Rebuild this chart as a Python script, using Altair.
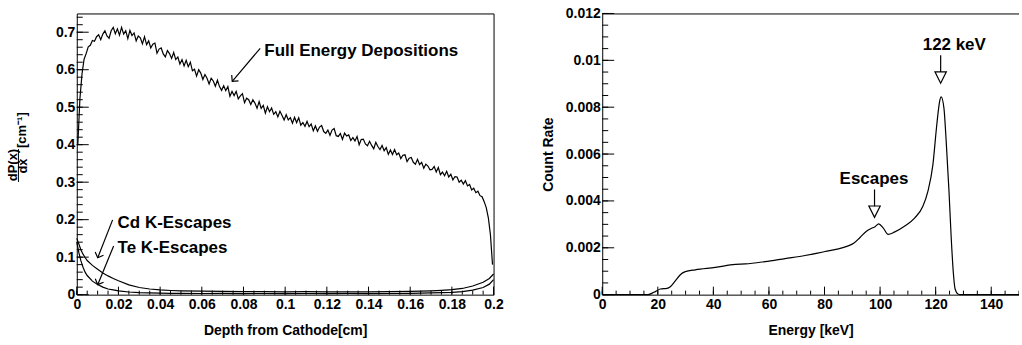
import altair as alt
import pandas as pd

# ---------------- data ----------------
# Left panel: full-energy deposition histogram (bin width 0.001 cm, first centre 0.0005 cm)
FULL_BIN_START = 0.0005
FULL_BIN_WIDTH = 0.001
full_values = [
    0.400, 0.522, 0.588, 0.628, 0.643, 0.661, 0.665, 0.678, 0.676, 0.688,
    0.693, 0.680, 0.695, 0.704, 0.690, 0.684, 0.704, 0.713, 0.696, 0.709,
    0.692, 0.713, 0.695, 0.704, 0.683, 0.705, 0.691, 0.698, 0.677, 0.690,
    0.685, 0.669, 0.688, 0.667, 0.677, 0.658, 0.668, 0.671, 0.644, 0.655,
    0.658, 0.642, 0.634, 0.651, 0.643, 0.630, 0.646, 0.627, 0.634, 0.615,
    0.627, 0.610, 0.625, 0.608, 0.620, 0.597, 0.601, 0.583, 0.600, 0.591,
    0.574, 0.587, 0.577, 0.562, 0.577, 0.570, 0.556, 0.572, 0.555, 0.545,
    0.557, 0.544, 0.555, 0.529, 0.542, 0.531, 0.542, 0.522, 0.530, 0.536,
    0.512, 0.524, 0.520, 0.507, 0.520, 0.511, 0.497, 0.515, 0.497, 0.505,
    0.484, 0.501, 0.488, 0.498, 0.481, 0.488, 0.474, 0.489, 0.478, 0.466,
    0.480, 0.466, 0.472, 0.457, 0.473, 0.459, 0.472, 0.452, 0.459, 0.449,
    0.462, 0.448, 0.455, 0.437, 0.450, 0.436, 0.447, 0.451, 0.435, 0.430,
    0.439, 0.425, 0.439, 0.443, 0.424, 0.422, 0.430, 0.414, 0.431, 0.423,
    0.426, 0.411, 0.419, 0.410, 0.422, 0.400, 0.414, 0.415, 0.402, 0.397,
    0.409, 0.398, 0.389, 0.406, 0.395, 0.387, 0.398, 0.384, 0.392, 0.374,
    0.386, 0.374, 0.387, 0.373, 0.378, 0.363, 0.372, 0.373, 0.355, 0.364,
    0.366, 0.353, 0.348, 0.361, 0.347, 0.353, 0.337, 0.348, 0.343, 0.333,
    0.334, 0.342, 0.327, 0.339, 0.320, 0.327, 0.317, 0.329, 0.314, 0.321,
    0.306, 0.315, 0.314, 0.300, 0.305, 0.295, 0.304, 0.290, 0.294, 0.279,
    0.284, 0.272, 0.276, 0.264, 0.261, 0.248, 0.232, 0.205, 0.160, 0.080,
]
full_depth = [round(FULL_BIN_START + FULL_BIN_WIDTH * i, 4) for i in range(len(full_values))]

esc_depth = [0.0, 0.001, 0.002, 0.003, 0.004, 0.005,
             0.0075, 0.01, 0.0125, 0.015, 0.0175, 0.02,
             0.025, 0.03, 0.035, 0.04, 0.045, 0.05,
             0.06, 0.07, 0.08, 0.09, 0.1,
             0.11, 0.12, 0.13, 0.14, 0.15, 0.16,
             0.165, 0.17, 0.175, 0.18, 0.185, 0.19, 0.195, 0.198, 0.2]
cd_values = [0.150, 0.135, 0.119, 0.108, 0.099, 0.091,
             0.078, 0.068, 0.058, 0.050, 0.043, 0.037,
             0.026, 0.019, 0.015, 0.0125, 0.011, 0.010,
             0.0092, 0.0085, 0.0078, 0.0082, 0.0074,
             0.0078, 0.0072, 0.0076, 0.0074, 0.0078, 0.0085,
             0.0092, 0.0102, 0.0115, 0.0132, 0.0165, 0.023, 0.033, 0.043, 0.055]
te_values = [0.140, 0.112, 0.090, 0.073, 0.060, 0.051,
             0.036, 0.027, 0.020, 0.015, 0.0125, 0.010,
             0.007, 0.0052, 0.0045, 0.004, 0.0036, 0.0034,
             0.0031, 0.0033, 0.0029, 0.0031, 0.0028,
             0.003, 0.0028, 0.003, 0.0029, 0.003, 0.0034,
             0.0038, 0.0045, 0.0052, 0.006, 0.008, 0.012, 0.019, 0.028, 0.040]

# Right panel: energy spectrum
energy = [0, 16.5, 18.6, 20.9, 23.3, 24.5, 26.3, 28.1, 29.9, 33.5,
          40.7, 47.9, 51.5, 58.6, 65.8, 73.0, 80.2, 85.0, 88.3, 90.5,
          92.7, 95.1, 96.9, 98.2, 99.5, 101.1, 102.9, 105.3, 108.9, 112.5,
          115.4, 117.2, 119.0, 120.4, 121.4, 122.0, 123.0, 123.8, 124.8, 125.6,
          126.4, 127.0, 128.0, 129.0, 150]
count_rate = [0, 0, 0.00010, 0.00024, 0.00027, 0.00034, 0.00059, 0.00085, 0.00098, 0.00106,
              0.00116, 0.00129, 0.00131, 0.00141, 0.00154, 0.00167, 0.00184, 0.00195, 0.00207, 0.00219,
              0.00243, 0.00271, 0.00283, 0.00290, 0.00302, 0.00285, 0.00257, 0.00268, 0.00293, 0.00328,
              0.00377, 0.00441, 0.00554, 0.00724, 0.00823, 0.00844, 0.00794, 0.00653, 0.00441, 0.00243,
              0.00088, 0.00024, 0.00003, 0, 0]

# axis ticks
left_x_major = [0, 0.02, 0.04, 0.06, 0.08, 0.1, 0.12, 0.14, 0.16, 0.18, 0.2]
left_x_minor = [round(0.005 * i, 3) for i in range(41)]
left_y_major = [0, 0.1, 0.2, 0.3, 0.4, 0.5, 0.6, 0.7]
left_y_minor = [round(0.02 * i, 2) for i in range(38)]
right_x_major = [0, 20, 40, 60, 80, 100, 120, 140]
right_x_minor = [5 * i for i in range(31)]
right_y_major = [0, 0.002, 0.004, 0.006, 0.008, 0.01, 0.012]
right_y_minor = [round(0.0005 * i, 4) for i in range(25)]

# annotations
left_labels = ["Full Energy Depositions", "Cd K-Escapes", "Te K-Escapes"]
left_label_x = [0.0900, 0.0196, 0.0196]
left_label_y = [0.649, 0.1915, 0.125]
left_arrow_x = [0.0880, 0.0172, 0.0177]
left_arrow_y = [0.657, 0.1995, 0.130]
left_arrow_x2 = [0.0746, 0.01005, 0.01005]
left_arrow_y2 = [0.569, 0.0984, 0.0266]
left_arrow_angle = [40.3, 21.5, 22.3]

right_labels = ["122 keV", "Escapes"]
right_label_x = [126.7, 97.8]
right_label_y = [0.01064, 0.00492]
right_arrow_x = [121.8, 98.0]
right_arrow_y = [0.01022, 0.00449]
right_arrow_y2 = [0.00950, 0.00377]
right_head_y = [0.009265, 0.00354]

# ---------------- layout ----------------
W, H = 418, 282
FONT = "Liberation Sans"
MAJ_X, MIN_X, MAJ_Y, MIN_Y = 8, 4, 12, 6
V_PATH = "M -1 -1 L 0 0 L 1 -1"
TRI_PATH = "M -1 -1 L 1 -1 L 0 1 Z"

one = pd.DataFrame({"a": [0]})


def tick_layers(xmaj, xmin, ymaj, ymin, xs, ys, xa, ya):
    out = []
    for vals, ln in ((xmin, MIN_X), (xmaj, MAJ_X)):
        out.append(alt.Chart(pd.DataFrame({"t": vals})).mark_rule(color="black", strokeWidth=1).encode(
            x=alt.X("t:Q", scale=xs, axis=xa), y=alt.value(H), y2=alt.value(H - ln)))
    for vals, ln in ((ymin, MIN_Y), (ymaj, MAJ_Y)):
        out.append(alt.Chart(pd.DataFrame({"t": vals})).mark_rule(color="black", strokeWidth=1).encode(
            y=alt.Y("t:Q", scale=ys, axis=ya), x=alt.value(0), x2=alt.value(ln)))
    return out


# ----- left panel -----
lx = alt.Scale(domain=[0, 0.2], nice=False, zero=False)
ly = alt.Scale(domain=[0, 0.75], nice=False)
lxa = alt.Axis(values=left_x_major, format="~r", title="Depth from Cathode[cm]", labelPadding=3, titlePadding=12)
lya = alt.Axis(values=left_y_major, format="~r", title=None, labelPadding=2)

full_df = pd.DataFrame({"x": full_depth, "y": full_values})
cd_df = pd.DataFrame({"x": esc_depth, "y": cd_values})
te_df = pd.DataFrame({"x": esc_depth, "y": te_values})

full_line = alt.Chart(full_df).mark_line(color="black", strokeWidth=1.2).encode(
    x=alt.X("x:Q", scale=lx, axis=lxa), y=alt.Y("y:Q", scale=ly, axis=lya))
cd_line = alt.Chart(cd_df).mark_line(color="black", strokeWidth=1.2).encode(
    x=alt.X("x:Q", scale=lx, axis=lxa), y=alt.Y("y:Q", scale=ly, axis=lya))
te_line = alt.Chart(te_df).mark_line(color="black", strokeWidth=1.2).encode(
    x=alt.X("x:Q", scale=lx, axis=lxa), y=alt.Y("y:Q", scale=ly, axis=lya))

lab_df = pd.DataFrame({"t": left_labels, "x": left_label_x, "y": left_label_y})
left_text = alt.Chart(lab_df).mark_text(font=FONT, fontWeight="bold", fontSize=17, align="left",
                                        baseline="middle", color="black").encode(
    x=alt.X("x:Q", scale=lx, axis=lxa), y=alt.Y("y:Q", scale=ly, axis=lya), text="t:N")
arr_df = pd.DataFrame({"x": left_arrow_x, "y": left_arrow_y, "x2": left_arrow_x2, "y2": left_arrow_y2,
                       "ang": left_arrow_angle})
left_arrows = alt.Chart(arr_df).mark_rule(color="black", strokeWidth=1.2).encode(
    x=alt.X("x:Q", scale=lx, axis=lxa), y=alt.Y("y:Q", scale=ly, axis=lya), x2="x2:Q", y2="y2:Q")
left_heads = alt.Chart(arr_df).mark_point(shape=V_PATH, filled=False, stroke="black", strokeWidth=1.2,
                                          size=80, opacity=1).encode(
    x=alt.X("x2:Q", scale=lx, axis=lxa), y=alt.Y("y2:Q", scale=ly, axis=lya),
    angle=alt.Angle("ang:Q", scale=None))

frac_num = alt.Chart(one).mark_text(text="dP(x)", angle=270, font=FONT, fontWeight="bold", fontSize=13,
                                    align="center", baseline="middle", color="black").encode(
    x=alt.value(-63.5), y=alt.value(152))
frac_den = alt.Chart(one).mark_text(text="dx", angle=270, font=FONT, fontWeight="bold", fontSize=13,
                                    align="center", baseline="middle", color="black").encode(
    x=alt.value(-53.5), y=alt.value(153))
frac_bar = alt.Chart(one).mark_rule(color="black", strokeWidth=1).encode(
    x=alt.value(-58.5), x2=alt.value(-58.5), y=alt.value(136), y2=alt.value(169))
frac_unit = alt.Chart(one).mark_text(text="[cm⁻¹]", angle=270, font=FONT, fontWeight="bold", fontSize=13,
                                     align="center", baseline="middle", color="black").encode(
    x=alt.value(-55), y=alt.value(117))
left_anchor = alt.Chart(one).mark_rule(color="white", strokeWidth=1).encode(
    x=alt.value(-75.5), x2=alt.value(-75.5), y=alt.value(-11.5), y2=alt.value(332.5))

left = alt.layer(
    full_line, cd_line, te_line,
    *tick_layers(left_x_major, left_x_minor, left_y_major, left_y_minor, lx, ly, lxa, lya),
    left_arrows, left_heads, left_text, frac_num, frac_den, frac_bar, frac_unit, left_anchor,
).properties(width=W, height=H)

# ----- right panel -----
rx = alt.Scale(domain=[0, 150], nice=False, zero=False)
ry = alt.Scale(domain=[0, 0.012], nice=False)
rxa = alt.Axis(values=right_x_major, format="d", title="Energy [keV]", labelPadding=3, titlePadding=12)
rya = alt.Axis(values=right_y_major, format="~r", title="Count Rate", labelPadding=2, titlePadding=10)

spec_df = pd.DataFrame({"e": energy, "r": count_rate})
spec_line = alt.Chart(spec_df).mark_line(interpolate="monotone", color="black", strokeWidth=1.2).encode(
    x=alt.X("e:Q", scale=rx, axis=rxa), y=alt.Y("r:Q", scale=ry, axis=rya))
rlab_df = pd.DataFrame({"t": right_labels, "x": right_label_x, "y": right_label_y})
right_text = alt.Chart(rlab_df).mark_text(font=FONT, fontWeight="bold", fontSize=17, align="center",
                                          baseline="middle", color="black").encode(
    x=alt.X("x:Q", scale=rx, axis=rxa), y=alt.Y("y:Q", scale=ry, axis=rya), text="t:N")
rarr_df = pd.DataFrame({"x": right_arrow_x, "y": right_arrow_y, "y2": right_arrow_y2, "hy": right_head_y})
right_arrows = alt.Chart(rarr_df).mark_rule(color="black", strokeWidth=1.2).encode(
    x=alt.X("x:Q", scale=rx, axis=rxa), y=alt.Y("y:Q", scale=ry, axis=rya), y2="y2:Q")
right_heads = alt.Chart(rarr_df).mark_point(shape=TRI_PATH, filled=False, stroke="black", strokeWidth=1.2,
                                            size=130, opacity=1).encode(
    x=alt.X("x:Q", scale=rx, axis=rxa), y=alt.Y("hy:Q", scale=ry, axis=rya))
right_anchor = alt.Chart(one).mark_rule(color="white", strokeWidth=1).encode(
    x=alt.value(418.5), x2=alt.value(418.5), y=alt.value(-11.5), y2=alt.value(332.5))

right = alt.layer(
    spec_line,
    *tick_layers(right_x_major, right_x_minor, right_y_major, right_y_minor, rx, ry, rxa, rya),
    right_arrows, right_heads, right_text, right_anchor,
).properties(width=W, height=H)

chart = alt.hconcat(left, right, spacing=109, bounds="flush").properties(
    padding=0, background="white"
).configure_view(
    stroke="black", strokeWidth=1
).configure_axis(
    grid=False, domain=False, ticks=False, tickSize=0,
    labelFont=FONT, labelFontWeight="bold", labelFontSize=14, labelColor="black",
    titleFont=FONT, titleFontWeight="bold", titleFontSize=14, titleColor="black",
    labelOverlap=False, labelFlush=False,
)

chart.save("out.html", embed_options={"renderer": "svg", "actions": False})
